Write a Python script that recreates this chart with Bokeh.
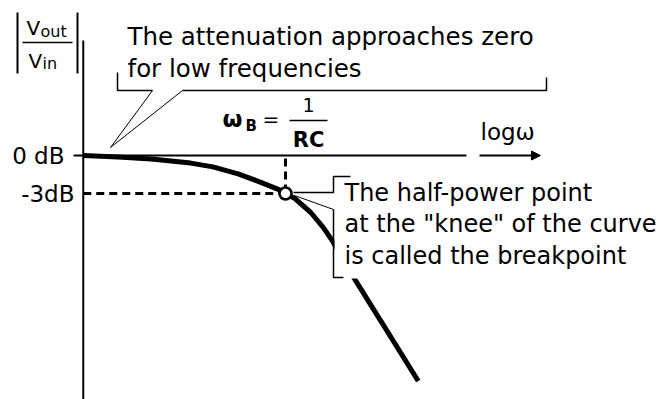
from bokeh.plotting import figure
from bokeh.models import Range1d, Arrow, NormalHead
from bokeh.core.properties import value
from bokeh.embed import file_html
from bokeh.resources import INLINE

# ---------------- data ----------------
logw = [-1.28, -1.06, -0.85, -0.60, -0.46, -0.30, -0.16, -0.03, 0.0,
        0.06, 0.16, 0.24, 0.30, 0.44, 0.60, 0.84]                      # log10(w/wB)
gain_db = [0.0, -0.12, -0.28, -0.6, -0.9, -1.45, -2.1, -2.75, -3.0,
           -3.4, -4.5, -5.7, -6.8, -9.8, -13.0, -17.8]                 # |Vout/Vin| in dB
tick_values = [0, -3]
tick_labels = ["0 dB", "-3dB"]
break_logw = 0.0
break_db = -3.0
note_top = ["The attenuation approaches zero", "for low frequencies"]
note_bottom = ["The half-power point", 'at the "knee" of the curve', "is called the breakpoint"]

# ---------------- page geometry ----------------
W, H = 660, 399
OFF = 0                 # figure origin in the picture
PX0, PXD = 285.0, 158.0 # image px of log=0, px per decade
PY0, PYD = 155.0, 38.0 / 3.0  # image px of 0 dB, px per dB


def X(px):
    return (px - PX0) / PXD


def Y(py):
    return -(py - PY0) / PYD


FONT = value("DejaVu Sans")

p = figure(width=W, height=H, output_backend="svg", toolbar_location=None,
           x_range=Range1d(X(OFF), X(OFF + W)), y_range=Range1d(Y(OFF + H), Y(OFF)),
           x_axis_location=None, y_axis_location=None, min_border=0,
           background_fill_color="white", border_fill_color="white")
p.grid.visible = False
p.outline_line_color = None


def seg(pts, w=1.5, dash="solid", color="black"):
    p.line([X(a) for a, b in pts], [Y(b) for a, b in pts], line_width=w,
           line_color=color, line_dash=dash)


def txt(px, py, s, size, align="left", style="normal"):
    p.text([X(px)], [Y(py)], text=[s], text_font=FONT, text_font_size=size,
           text_align=align, text_baseline="middle", text_color="black",
           text_font_style=style)


# axes
ax_x = logw[0]
p.line([ax_x, ax_x], [Y(40), Y(OFF + H)], line_width=2, line_color="black")
p.line([X(73), X(466)], [tick_values[0], tick_values[0]], line_width=2, line_color="black")
p.add_layout(Arrow(end=NormalHead(size=9, fill_color="black", line_color="black"),
                   x_start=X(479), y_start=0, x_end=X(540), y_end=0,
                   line_width=2, line_color="black"))
txt(480, 131, "log\u03c9", "23px")

# tick labels
txt(64, 155, tick_labels[0], "23px", align="right")
txt(74, 193, tick_labels[1], "23px", align="right")

# dashed guides to breakpoint
p.line([ax_x, break_logw - X(291) + X(285)], [break_db, break_db], line_width=3,
       line_color="black", line_dash="8 5")
p.line([break_logw, break_logw], [Y(158), Y(187)], line_width=3,
       line_color="black", line_dash="8 5")

# response curve
p.line(logw, gain_db, line_width=5, line_color="black", line_cap="butt", line_join="round")

# breakpoint marker
p.scatter([break_logw], [break_db], size=12, fill_color="white", line_color="black",
          line_width=2.5)

# white box behind lower note (hides curve)
p.quad(left=[X(334)], right=[X(OFF + W)], top=[Y(176)], bottom=[Y(278)],
       fill_color="white", line_color=None)

# lower callout bracket
seg([(350, 176), (333, 176), (333, 192), (293, 192)], 1.5)
seg([(294, 195), (333, 209)], 1)
seg([(333, 209), (333, 277), (343, 277)], 1.5)
for i, s in enumerate(note_bottom):
    txt(344, 192 + 31.5 * i, s, "24px")

# upper callout
for i, s in enumerate(note_top):
    txt(127, 36 + 32 * i, s, "24.5px")
seg([(117, 72), (117, 90), (152, 90)], 1.5)
seg([(152, 90), (110, 147), (182, 90)], 1)
seg([(182, 90), (546, 90), (546, 77)], 1.5)

# y label |Vout / Vin|
seg([(17, 12), (17, 73)], 2)
seg([(77, 12), (77, 73)], 2)
seg([(22, 42), (72, 42)], 1.5)
txt(26, 27, "V", "20px")
txt(40, 31, "out", "16px")
txt(28, 60, "V", "20px")
txt(42, 63, "in", "16px")

# wB = 1/RC
txt(222, 118, "\u03c9", "23px", style="bold")
txt(245, 125, "B", "15px", style="bold")
txt(262, 118, "=", "20px")
txt(308, 104, "1", "19px", align="center")
seg([(289, 120), (327, 120)], 1.5)
txt(308, 139, "RC", "21px", align="center", style="bold")

open("out.html", "w").write(file_html(p, INLINE))
